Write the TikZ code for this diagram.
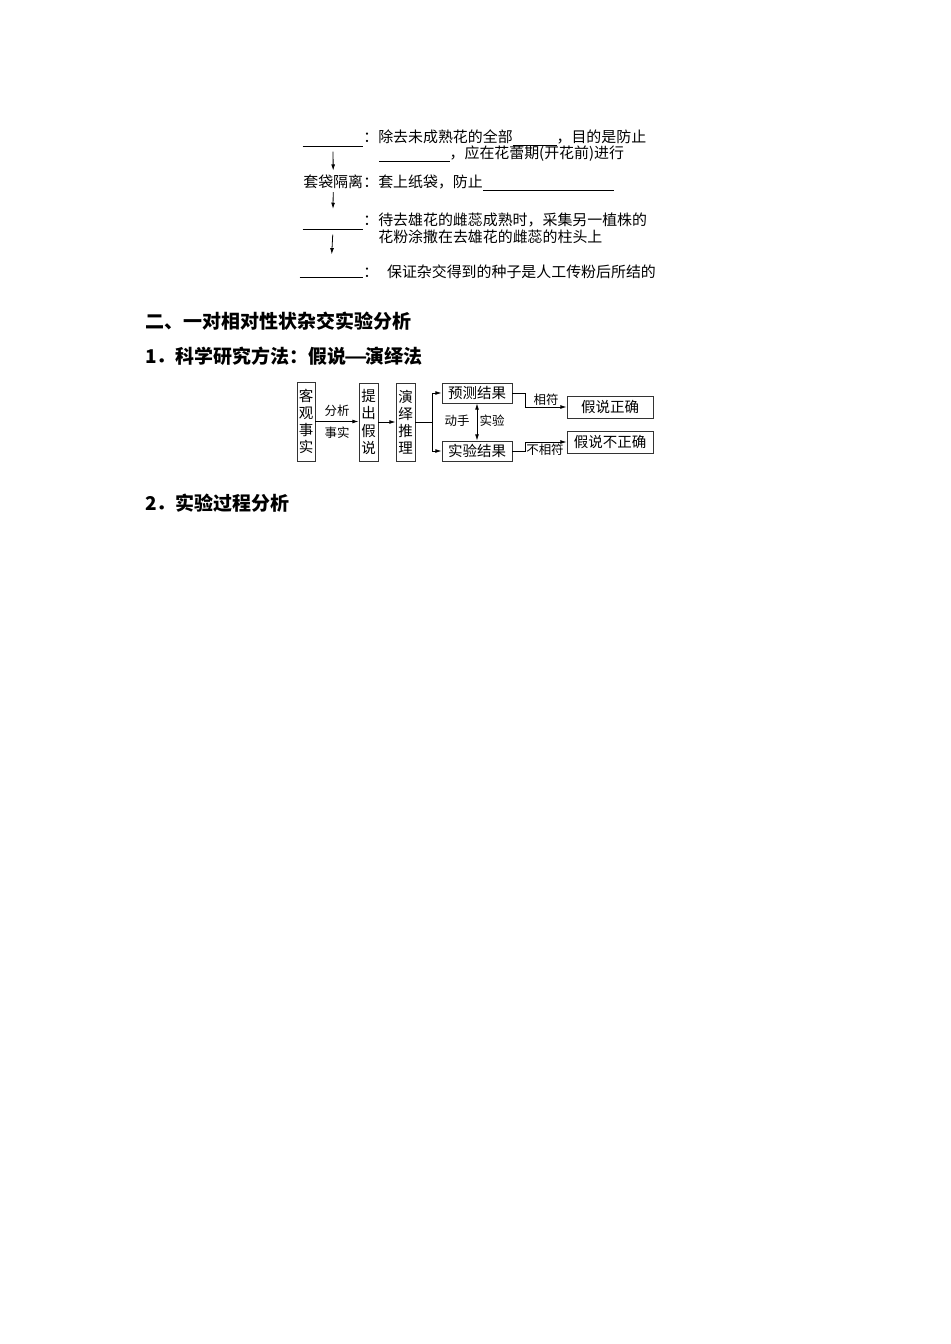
\documentclass[tikz,border=0pt]{standalone}
\usepackage{fontspec}
\usepackage{graphicx}
\setmainfont{Noto Sans CJK SC}
\usetikzlibrary{arrows.meta}
\newcommand\blank[1]{\rule[-1.7pt]{#1}{0.45pt}}
\newcommand\longdash{\makebox[1em][c]{\scalebox{1.35}[1]{—}}}
\tikzset{
  txt/.style={anchor=base west, inner sep=0, font=\fontsize{8.5pt}{10pt}\selectfont},
  head/.style={anchor=base west, inner sep=0, font=\fontsize{10.8pt}{13pt}\selectfont\bfseries},
  fillin/.style={minimum width=1.2cm, minimum height=0.36cm, inner sep=0,
    append after command={(\tikzlastnode.south west) edge[line width=0.45pt] (\tikzlastnode.south east)}},
  down/.style={-{Latex[length=3.5pt,width=2.2pt]}, line width=0.45pt, shorten <=3pt, shorten >=2.5pt},
  box/.style={draw=black!80, line width=0.5pt, inner sep=0, align=center, font=\fontsize{8.25pt}{9.7pt}\selectfont},
  lbl/.style={inner sep=0, font=\fontsize{7.1pt}{8pt}\selectfont},
  arr/.style={-{Latex[length=3.5pt,width=2.2pt]}, line width=0.45pt}
}
\begin{document}
\begin{tikzpicture}[x=0.02cm, y=-0.02cm]
  \fill[white] (0,0) rectangle (950,1344);
  \useasboundingbox (0,0) rectangle (950,1344);
  % steps of the cross
  \node[fillin] (s1) at (333,137) {};
  \node[txt] (l1) at (363,143) {：除去未成熟花的全部\blank{25pt}，目的是防止};
  \node[txt] (l2) at (379,159) {\blank{40pt}，应在花蕾期(开花前)进行};
  \node[txt] (tao) at (303,188) {套袋隔离};
  \node[txt] (l3) at (363,188) {：套上纸袋，防止\blank{74.5pt}};
  \node[fillin] (s4) at (333,220) {};
  \node[txt] (l4) at (363,226) {：待去雄花的雌蕊成熟时，采集另一植株的};
  \node[txt] (l5) at (378,243) {花粉涂撒在去雄花的雌蕊的柱头上};
  \node[fillin, minimum width=1.26cm] (s6) at (331.5,268) {};
  \node[txt] (l6) at (363,278) {：\hspace{5pt}保证杂交得到的种子是人工传粉后所结的};
  \draw[down] (s1.south) -- (tao.north);
  \draw[down, shorten <=1.5pt, shorten >=1pt] (tao.south) -- (s4.north);
  \draw[down] (s4.south) -- (s6.north);
  % headings
  \node[head] (h2) at (145,329) {二、一对相对性状杂交实验分析};
  \node[head] (h21) at (145,364) {1．科学研究方法：假说\longdash 演绎法};
  \node[head] (h22) at (145,510) {2．实验过程分析};
  % hypothesis--deduction chart
  \node[box, minimum width=0.36cm, minimum height=1.58cm] (ke) at (306,421.5) {客\\观\\事\\实};
  \node[box, minimum width=0.38cm, minimum height=1.56cm] (ti) at (368.5,422) {提\\出\\假\\说};
  \node[box, minimum width=0.38cm, minimum height=1.56cm] (yan) at (405.5,422) {演\\绎\\推\\理};
  \node[box, minimum width=1.4cm, minimum height=0.4cm] (yc) at (477,393) {预测结果};
  \node[box, minimum width=1.4cm, minimum height=0.4cm] (sy) at (477,451) {实验结果};
  \node[box, minimum width=1.72cm, minimum height=0.44cm] (zq) at (610,407) {假说正确};
  \node[box, minimum width=1.72cm, minimum height=0.44cm] (bzq) at (610,442) {假说不正确};
  \coordinate (fork) at (432,422);
  \draw[arr] (ke.east) -- (ke.east -| ti.west);
  \node[lbl] (fx) at (337,411) {分析};
  \node[lbl] (ss) at (337,433) {事实};
  \draw[arr] (ti.east) -- (ti.east -| yan.west);
  \draw[line width=0.45pt] (yan.east) -- (fork);
  \draw[arr] (fork) |- (yc.west);
  \draw[arr] (fork) |- (sy.west);
  \draw[arr, {Latex[length=3.5pt,width=2.2pt]}-{Latex[length=3.5pt,width=2.2pt]}] (yc.south) -- (sy.north);
  \node[lbl] (ds) at (457,421) {动手};
  \node[lbl] (sj) at (492,421) {实验};
  \draw[arr] (yc.east) -- ++(13,0) |- (zq.west);
  \draw[arr] (sy.east) -- ++(13,0) |- (bzq.west);
  \node[lbl] (xf) at (546,400) {相符};
  \node[lbl] (bxf) at (545,450) {不相符};
\end{tikzpicture}
\end{document}
